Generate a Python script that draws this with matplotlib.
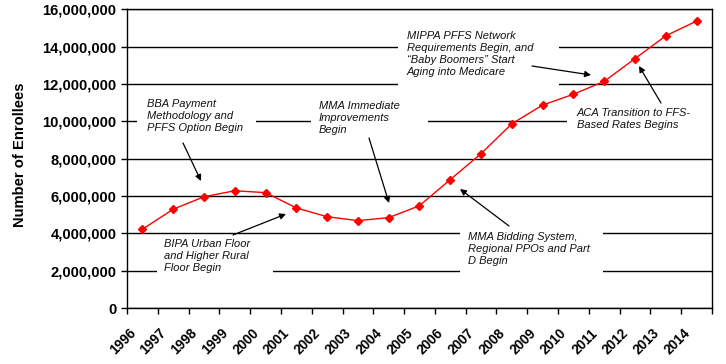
import numpy as np
import matplotlib
matplotlib.use("Agg")
import matplotlib.pyplot as plt
from matplotlib.patches import Rectangle
from matplotlib.ticker import FuncFormatter
from matplotlib.transforms import ScaledTranslation, blended_transform_factory

plt.rcParams['font.family'] = ['Liberation Sans', 'DejaVu Sans']

years = ['1996', '1997', '1998', '1999', '2000', '2001', '2002', '2003', '2004', '2005',
         '2006', '2007', '2008', '2009', '2010', '2011', '2012', '2013', '2014']
enrollees = [4.22e6, 5.29e6, 5.96e6, 6.28e6, 6.18e6, 5.36e6, 4.89e6, 4.68e6, 4.84e6, 5.48e6,
             6.88e6, 8.27e6, 9.87e6, 10.87e6, 11.45e6, 12.14e6, 13.36e6, 14.58e6, 15.37e6]
y_ticks = [0, 2e6, 4e6, 6e6, 8e6, 10e6, 12e6, 14e6, 16e6]
y_label = 'Number of Enrollees'

notes = [
    'BBA Payment\nMethodology and\nPFFS Option Begin',
    'BIPA Urban Floor\nand Higher Rural\nFloor Begin',
    'MMA Immediate\nImprovements\nBegin',
    'MIPPA PFFS Network\nRequirements Begin, and\n\u201cBaby Boomers\u201d Start\nAging into Medicare',
    'ACA Transition to FFS-\nBased Rates Begins',
    'MMA Bidding System,\nRegional PPOs and Part\nD Begin',
]

W, H = 726, 364
fig = plt.figure(figsize=(W / 100, H / 100), dpi=100)
ax = fig.add_axes([127 / W, 1 - 308 / H, (712 - 127) / W, (308 - 9.3) / H])

x = np.arange(len(years))
ax.set_xlim(-0.5, len(years) - 0.5)
ax.set_ylim(y_ticks[0], y_ticks[-1])
ax.set_axisbelow(True)
ax.set_yticks(y_ticks)
ax.yaxis.set_major_formatter(FuncFormatter(lambda v, p: f'{int(v):,}'))
ax.grid(axis='y', color='black', lw=1.0)
ax.set_xticks(np.arange(-0.5, len(years)))
ax.set_xticklabels([])
ax.tick_params(axis='both', direction='out', length=4.5, width=1, color='black')
ax.tick_params(axis='y', labelsize=10.6, pad=3)
for lab in ax.get_yticklabels():
    lab.set_fontweight('bold')
for s in ax.spines.values():
    s.set_linewidth(1.0)
    s.set_color('black')

# x labels at category centres, rotated
trans = blended_transform_factory(ax.transData, ax.transAxes) + ScaledTranslation(-9 / 100, -23 / 100, fig.dpi_scale_trans)
for xi, yr in zip(x, years):
    ax.text(xi, 0, yr, transform=trans, rotation=45, rotation_mode='anchor',
            ha='right', va='center', fontsize=9.8, fontweight='bold', clip_on=False)

fig.text(20 / W, 1 - 155 / H, y_label, rotation=90, ha='center', va='center',
         fontsize=10.6, fontweight='bold')

ax.plot(x, enrollees, color='#FF0000', lw=1.0, marker='D', markersize=4.2,
        markerfacecolor='#FF0000', markeredgecolor='#FF0000', zorder=3, clip_on=False)

def P(px, py):
    return (px / W, 1 - py / H)

layout = [
    # text top-left, box (x0, y0, x1, y1), arrow tail, arrow head
    ((147, 99), (137, 95, 256, 145), (183, 143), (201, 181)),
    ((164, 239), (157, 235, 273, 283), (233, 235), (286, 214)),
    ((319, 101), (311, 97, 428, 143), (369, 138), (389, 203)),
    ((407, 31), (398, 27, 559, 88), (532, 66), (591, 75)),
    ((577, 108), (567, 104, 712, 140), (661, 103), (639, 66)),
    ((468, 232), (460, 228, 603, 283), (509, 226), (460, 189)),
]

for txt, (tp, box, tail, head) in zip(notes, layout):
    x0, y0, x1, y1 = box
    r = Rectangle(P(x0, y1), (x1 - x0) / W, (y1 - y0) / H, transform=fig.transFigure,
                  facecolor='white', edgecolor='none', zorder=1, clip_on=False)
    ax.add_patch(r)
    fig.text(*P(*tp), txt, ha='left', va='top', fontsize=8, style='italic',
             color='#111111', linespacing=1.25, zorder=4)
    ax.annotate('', xy=P(*head), xytext=P(*tail), xycoords='figure fraction',
                textcoords='figure fraction',
                arrowprops=dict(arrowstyle='-|>', color='black', lw=0.9,
                                mutation_scale=9, shrinkA=0, shrinkB=0), zorder=4)

fig.savefig('out.png', dpi=100)
